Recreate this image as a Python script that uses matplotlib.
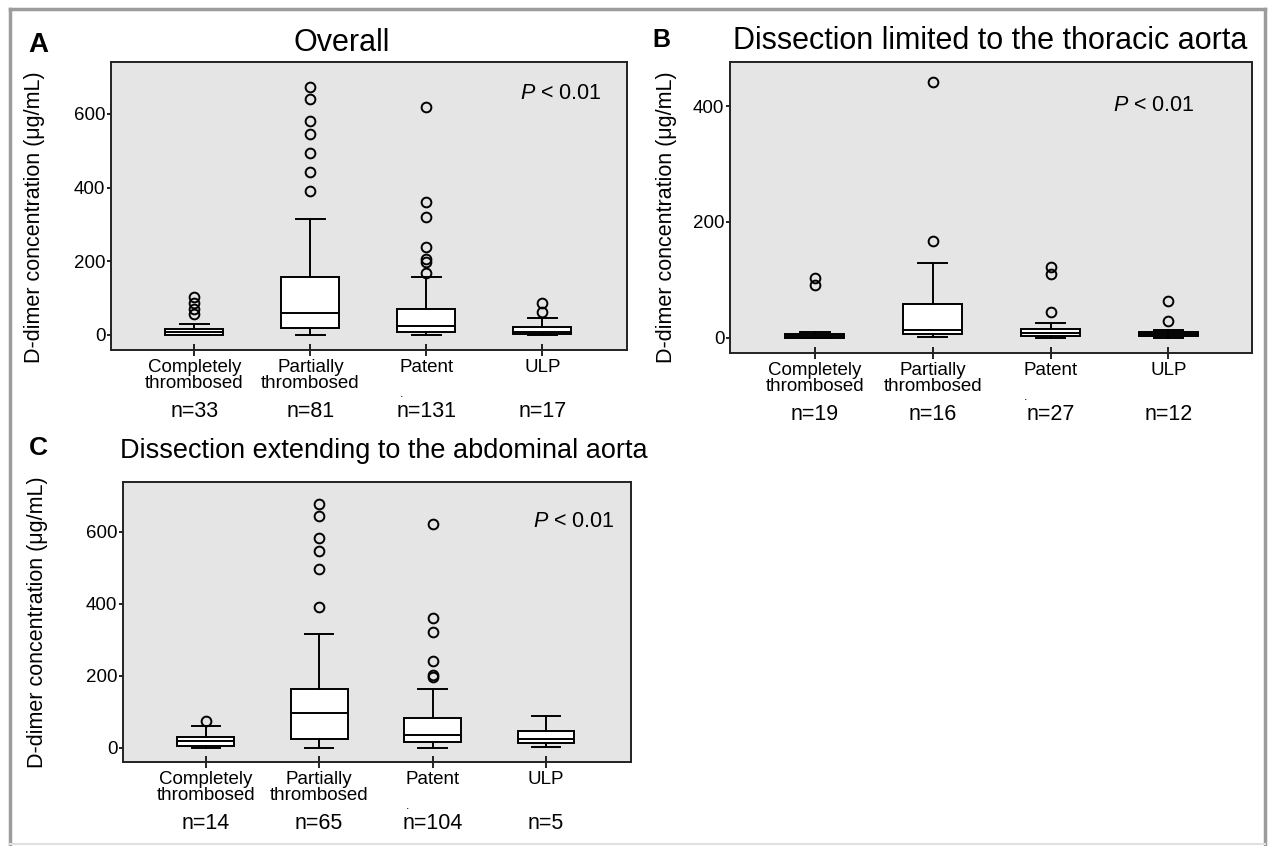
import matplotlib
matplotlib.use('Agg')
import matplotlib.pyplot as plt
from matplotlib.lines import Line2D

plt.rcParams['font.family'] = ['Liberation Sans', 'DejaVu Sans']
plt.rcParams['mathtext.fontset'] = 'custom'
plt.rcParams['mathtext.rm'] = 'Liberation Sans'
plt.rcParams['mathtext.it'] = 'Liberation Sans:italic'

W, H = 1268, 846

categories = ['Completely\nthrombosed', 'Partially\nthrombosed', 'Patent', 'ULP']

# panel A - overall
a_med = [8, 60, 25, 9]
a_q1 = [1, 20, 9, 3]
a_q3 = [15, 157, 70, 22]
a_lo = [0, 0, 0, 0]
a_hi = [30, 315, 156, 45]
a_fliers = [[56, 71, 87, 103], [392, 441, 495, 545, 580, 641, 674],
            [167, 197, 205, 240, 320, 360, 620], [63, 86]]
a_n = [33, 81, 131, 17]

# panel B - thoracic aorta only
b_med = [4, 13, 8, 6]
b_q1 = [0.5, 7, 3, 3]
b_q3 = [6, 58, 15, 10]
b_lo = [0, 1, 0, 0]
b_hi = [10, 130, 25, 13]
b_fliers = [[91, 104], [167, 442], [45, 111, 123], [29, 64]]
b_n = [19, 16, 27, 12]

# panel C - extending to abdominal aorta
c_med = [17, 95, 34, 25]
c_q1 = [5, 25, 15, 12]
c_q3 = [29, 163, 81, 46]
c_lo = [0, 0, 0, 2]
c_hi = [60, 316, 164, 88]
c_fliers = [[73], [392, 496, 547, 582, 643, 676],
            [195, 203, 240, 321, 360, 622], []]
c_n = [14, 65, 104, 5]


def fx(x):
    return x / W


def fy(y):
    return 1 - y / H


def panel(rect, med, q1, q3, lo, hi, fliers, n, yticks, ylim, xlim, ptxt, labpos):
    ax = fig.add_axes(rect)
    ax.set_facecolor('#e5e5e5')
    stats = []
    for i in range(len(med)):
        stats.append(dict(med=med[i], q1=q1[i], q3=q3[i], whislo=lo[i],
                          whishi=hi[i], fliers=fliers[i]))
    lw = 1.4
    ax.bxp(stats, positions=[1, 2, 3, 4], widths=0.5, capwidths=0.25,
           patch_artist=True,
           boxprops=dict(facecolor='white', edgecolor='black', linewidth=lw),
           medianprops=dict(color='black', linewidth=lw),
           whiskerprops=dict(color='black', linewidth=lw),
           capprops=dict(color='black', linewidth=lw),
           flierprops=dict(marker='o', markerfacecolor='none',
                           markeredgecolor='black', markersize=7,
                           markeredgewidth=1.4))
    ax.set_xlim(*xlim)
    ax.set_ylim(*ylim)
    ax.set_yticks(yticks)
    ax.set_xticks([1, 2, 3, 4])
    ax.set_xticklabels(categories, fontsize=13.5, linespacing=0.95)
    ax.tick_params(axis='x', direction='inout', length=9, width=1.2, pad=2)
    ax.tick_params(axis='y', direction='out', length=3, width=1.2, pad=1,
                   labelsize=13.5)
    for s in ax.spines.values():
        s.set_linewidth(1.4)
        s.set_color('#222222')
    ax.set_ylabel('D-dimer concentration (\u03bcg/mL)', fontsize=15.5)
    ax.yaxis.set_label_coords(*labpos)
    for i, v in enumerate(n):
        ax.annotate('n=%d' % v, xy=(i + 1, 0), xycoords=ax.get_xaxis_transform(),
                    xytext=(0, -44), textcoords='offset points',
                    ha='center', va='center', fontsize=15.5)
    ax.annotate('.', xy=(3, 0), xycoords=ax.get_xaxis_transform(),
                xytext=(-18, -32), textcoords='offset points',
                ha='center', va='center', fontsize=9)
    ax.text(ptxt[0], ptxt[1], '$P$ < 0.01', transform=ax.transAxes,
            ha='center', va='center', fontsize=15.5)
    return ax


fig = plt.figure(figsize=(W / 100, H / 100), dpi=100)

panel([fx(111), fy(350), (627 - 111) / W, (350 - 62) / H],
      a_med, a_q1, a_q3, a_lo, a_hi, a_fliers, a_n,
      [0, 200, 400, 600], (-41, 741), (0.28, 4.73), (0.872, 0.892),
      (-0.128, 0.462))
panel([fx(730), fy(353), (1252 - 730) / W, (353 - 62) / H],
      b_med, b_q1, b_q3, b_lo, b_hi, b_fliers, b_n,
      [0, 200, 400], (-26, 476), (0.28, 4.71), (0.812, 0.852),
      (-0.102, 0.467))
panel([fx(123), fy(762), (631 - 123) / W, (762 - 482) / H],
      c_med, c_q1, c_q3, c_lo, c_hi, c_fliers, c_n,
      [0, 200, 400, 600], (-40, 738), (0.27, 4.75), (0.888, 0.859),
      (-0.148, 0.5))

# panel letters and titles
fig.text(fx(38), fy(45), 'A', fontsize=20, fontweight='bold', ha='center', va='center')
fig.text(fx(661), fy(40), 'B', fontsize=18, fontweight='bold', ha='center', va='center')
fig.text(fx(38), fy(448), 'C', fontsize=19, fontweight='bold', ha='center', va='center')
fig.text(fx(342), fy(43), 'Overall', fontsize=22, ha='center', va='center')
fig.text(fx(990), fy(41), 'Dissection limited to the thoracic aorta', fontsize=22,
         ha='center', va='center')
fig.text(fx(120), fy(451), 'Dissection extending to the abdominal aorta', fontsize=19.5,
         ha='left', va='center')

# grey frame round the figure
frame = '#9c9c9c'
fig.add_artist(Line2D([fx(10), fx(1265)], [fy(9), fy(9)], color=frame, lw=2.5))
fig.add_artist(Line2D([fx(10), fx(10)], [fy(9), fy(844)], color=frame, lw=2.5))
fig.add_artist(Line2D([fx(1265), fx(1265)], [fy(9), fy(844)], color=frame, lw=2.5))
fig.add_artist(Line2D([fx(10), fx(1265)], [fy(844), fy(844)], color='#e0e0e0', lw=1.5))

fig.savefig('out.png', dpi=100)
